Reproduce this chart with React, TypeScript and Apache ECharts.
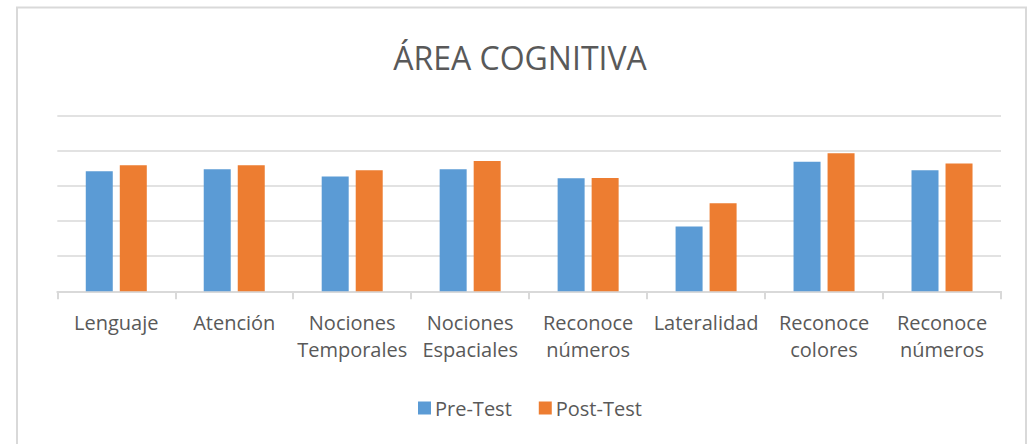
import React, { useEffect, useRef } from "react";
import * as echarts from "echarts";

const categories = [
  "Lenguaje",
  "Atención",
  "Nociones\nTemporales",
  "Nociones\nEspaciales",
  "Reconoce\nnúmeros",
  "Lateralidad",
  "Reconoce\ncolores",
  "Reconoce\nnúmeros",
];
const preTest = [3.41, 3.47, 3.26, 3.47, 3.21, 1.84, 3.68, 3.44];
const postTest = [3.58, 3.58, 3.44, 3.7, 3.22, 2.5, 3.92, 3.63];
const seriesNames = ["Pre-Test", "Post-Test"];

const FONT = "'Open Sans', 'Noto Sans', sans-serif";
const TEXT = "#595959";
const GRID = "#d9d9d9";

export default function App() {
  const ref = useRef<HTMLDivElement>(null);
  useEffect(() => {
    if (!ref.current) return;
    const chart = echarts.init(ref.current, undefined, { renderer: "svg" });
    chart.setOption({
      animation: false,
      backgroundColor: "#ffffff",
      textStyle: { fontFamily: FONT },
      title: {
        text: "ÁREA COGNITIVA",
        left: 515,
        textAlign: "center",
        top: 31,
        textStyle: {
          fontFamily: FONT,
          fontSize: 32,
          fontWeight: "normal",
          color: TEXT,
          lineHeight: 42,
        },
      },
      graphic: [
        {
          type: "rect",
          shape: { x: 17, y: 7.5, width: 1009, height: 500 },
          style: { fill: "none", stroke: GRID, lineWidth: 2 },
          silent: true,
        },
      ],
      legend: {
        data: seriesNames,
        top: 393,
        left: 413,
        icon: "rect",
        itemWidth: 13,
        itemHeight: 13,
        itemGap: 27,
        textStyle: { fontFamily: FONT, fontSize: 20, color: TEXT, lineHeight: 20, padding: [0, 0, 0, -1] },
      },
      grid: {
        left: 57.3,
        right: 27,
        top: 115.3,
        bottom: 152.7,
        containLabel: false,
      },
      xAxis: {
        type: "category",
        data: categories,
        axisLine: { lineStyle: { color: GRID, width: 2 } },
        axisTick: { show: true, length: 8, lineStyle: { color: GRID, width: 2 } },
        axisLabel: {
          interval: 0,
          margin: 18,
          fontFamily: FONT,
          fontSize: 20,
          lineHeight: 27,
          color: TEXT,
        },
      },
      yAxis: {
        type: "value",
        min: 0,
        max: 5,
        interval: 1,
        axisLabel: { show: false },
        axisLine: { show: false },
        axisTick: { show: false },
        splitLine: { lineStyle: { color: GRID, width: 1.5 } },
      },
      series: [
        {
          name: seriesNames[0],
          type: "bar",
          data: preTest,
          barWidth: 27,
          barGap: "26%",
          itemStyle: { color: "#5B9BD5" },
        },
        {
          name: seriesNames[1],
          type: "bar",
          data: postTest,
          barWidth: 27,
          barGap: "26%",
          itemStyle: { color: "#ED7D31" },
        },
      ],
    });
    return () => chart.dispose();
  }, []);
  return (
    <div
      ref={ref}
      style={{ position: "fixed", left: 0, top: 0, width: 1028, height: 444 }}
    />
  );
}
